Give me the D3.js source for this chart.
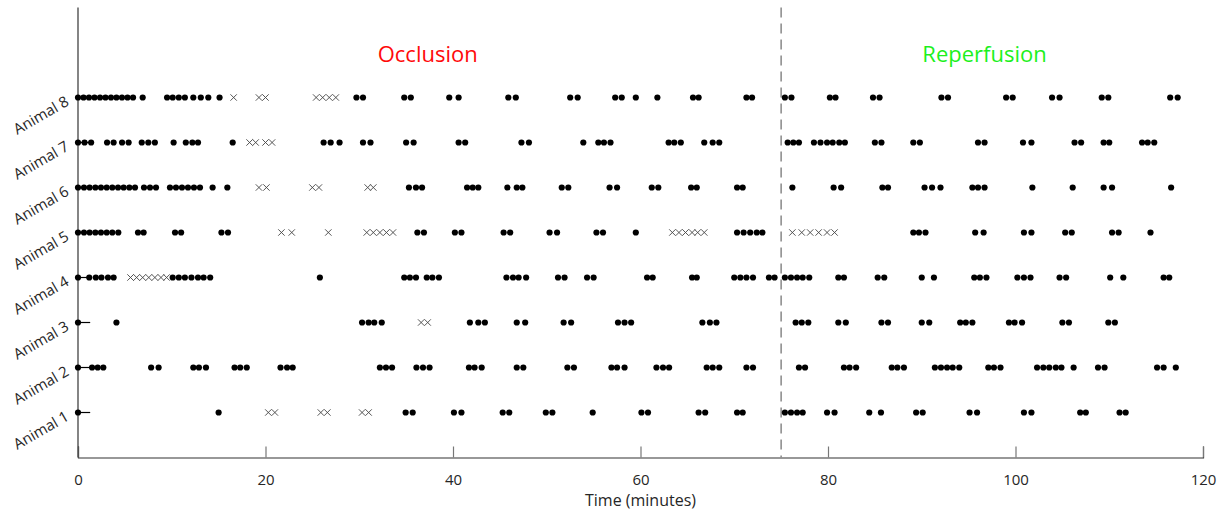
<!DOCTYPE html>
<html>
<head>
<meta charset="utf-8">
<script src="https://cdn.jsdelivr.net/npm/d3@7"></script>
<style>
  html, body { margin: 0; padding: 0; background: #fff; }
  svg { display: block; }
  text { font-family: "Open Sans", "Noto Sans", sans-serif; }
</style>
</head>
<body>
<svg id="chart" width="1226" height="515"></svg>
<script>
// Event times (minutes) per animal: dots = detected events, crosses = missed / excluded events
const animals = ["Animal 1", "Animal 2", "Animal 3", "Animal 4", "Animal 5", "Animal 6", "Animal 7", "Animal 8"];

const animal1Dots = [0, 15.0, 34.95, 35.7, 40.1, 40.9, 45.3, 46.0, 49.9, 50.6, 54.9, 60.1, 60.8, 66.2, 66.9, 70.3, 70.9, 75.4, 76.05, 76.7, 77.3, 79.9, 80.7, 84.4, 85.65, 89.4, 90.1, 95.1, 95.9, 100.9, 101.7, 106.9, 107.5, 111.1, 111.75];
const animal1Crosses = [20.3, 21.0, 25.9, 26.6, 30.3, 31.0];

const animal2Dots = [0, 1.5, 2.1, 2.7, 7.8, 8.6, 12.3, 12.9, 13.65, 16.7, 17.3, 18.0, 21.6, 22.3, 22.9, 32.2, 32.85, 33.5, 36.1, 36.8, 37.5, 41.7, 42.3, 43.06, 46.8, 47.5, 52.2, 52.9, 56.9, 57.5, 58.3, 61.7, 62.4, 63.05, 67.06, 67.7, 68.4, 71.3, 72.0, 76.9, 77.55, 81.7, 82.3, 83.0, 86.8, 87.4, 88.1, 91.4, 92.05, 92.7, 93.3, 94.0, 97.1, 97.7, 98.4, 102.3, 102.97, 103.6, 104.3, 104.9, 106.2, 108.8, 109.5, 115.1, 115.8, 117.1];
const animal2Crosses = [];

const animal3Dots = [0, 4.1, 30.3, 31.0, 31.6, 32.4, 41.8, 42.7, 43.4, 46.8, 47.7, 51.8, 52.6, 57.6, 58.3, 59.0, 66.6, 67.4, 68.1, 76.55, 77.2, 77.9, 81.1, 81.9, 85.7, 86.4, 90.0, 90.8, 94.1, 94.7, 95.4, 99.3, 99.9, 100.7, 105.0, 105.7, 109.9, 110.6];
const animal3Crosses = [36.6, 37.3];

const animal4Dots = [0, 1.2, 1.9, 2.5, 3.2, 3.8, 10.1, 10.75, 11.4, 12.1, 12.8, 13.4, 14.1, 25.8, 34.8, 35.4, 36.05, 37.2, 37.8, 38.5, 45.7, 46.4, 47.0, 47.8, 51.2, 51.9, 54.3, 55.0, 60.7, 61.3, 65.5, 66.0, 70.0, 70.65, 71.3, 72.0, 73.7, 74.3, 75.4, 76.05, 76.7, 77.3, 78.0, 81.1, 81.7, 85.3, 86.0, 90.0, 91.3, 95.6, 96.2, 96.9, 100.2, 100.9, 101.6, 104.7, 105.4, 110.1, 111.5, 115.8, 116.4];
const animal4Crosses = [5.6, 6.25, 6.9, 7.55, 8.2, 8.85, 9.45];

const animal5Dots = [0, 0.64, 1.24, 1.85, 2.45, 3.06, 3.66, 4.3, 6.4, 7.0, 10.35, 11.0, 15.3, 16.0, 36.2, 36.9, 40.2, 40.9, 45.4, 46.1, 50.3, 51.1, 55.3, 56.0, 59.5, 70.3, 71.0, 71.7, 72.4, 73.0, 89.1, 89.7, 90.4, 95.7, 96.6, 100.9, 101.7, 105.3, 106.0, 110.3, 111.0, 114.4];
const animal5Crosses = [21.7, 22.8, 26.7, 30.8, 31.5, 32.2, 32.9, 33.6, 63.4, 64.1, 64.8, 65.5, 66.1, 66.8, 76.2, 77.2, 78.1, 79.0, 79.9, 80.7];

const animal6Dots = [0, 0.64, 1.24, 1.85, 2.45, 3.06, 3.66, 4.27, 4.87, 5.48, 6.08, 7.04, 7.68, 8.32, 9.81, 10.45, 11.09, 11.73, 12.37, 13.01, 14.36, 15.93, 35.3, 36.05, 36.7, 41.5, 42.1, 42.7, 45.8, 46.8, 47.4, 51.6, 52.3, 56.7, 57.5, 61.2, 61.9, 65.4, 66.0, 70.3, 70.9, 76.2, 80.6, 81.4, 85.8, 86.4, 90.3, 91.1, 92.0, 95.4, 96.0, 96.7, 101.8, 106.1, 109.4, 110.3, 116.6];
const animal6Crosses = [19.3, 20.1, 25.0, 25.7, 30.9, 31.5];

const animal7Dots = [0, 0.7, 1.4, 3.1, 3.8, 4.7, 5.4, 6.8, 7.5, 8.2, 10.2, 11.5, 12.2, 12.8, 16.5, 26.2, 26.95, 27.9, 30.4, 31.2, 35.0, 35.8, 40.6, 41.3, 47.3, 48.1, 53.9, 55.5, 56.1, 56.8, 63.0, 63.6, 64.3, 66.8, 67.7, 68.4, 75.7, 76.3, 76.9, 78.5, 79.2, 79.9, 80.5, 81.2, 81.8, 85.0, 85.7, 89.1, 89.8, 96.0, 96.7, 100.8, 101.7, 106.3, 107.0, 109.4, 110.0, 113.5, 114.1, 114.8];
const animal7Crosses = [18.3, 18.95, 20.0, 20.7];

const animal8Dots = [0, 0.59, 1.17, 1.76, 2.35, 2.93, 3.52, 4.1, 4.69, 5.28, 5.87, 6.9, 9.5, 10.1, 10.75, 11.4, 12.3, 13.1, 13.9, 15.1, 29.7, 30.4, 34.8, 35.5, 39.6, 40.6, 45.9, 46.7, 52.5, 53.3, 57.3, 58.0, 59.5, 61.8, 65.6, 66.2, 71.3, 71.9, 75.4, 76.1, 80.2, 80.8, 84.8, 85.5, 92.1, 92.8, 99.0, 99.7, 103.9, 104.7, 109.2, 109.9, 116.5, 117.3];
const animal8Crosses = [16.6, 19.3, 20.0, 25.4, 26.1, 26.8, 27.5];

const dotSeries = [animal1Dots, animal2Dots, animal3Dots, animal4Dots, animal5Dots, animal6Dots, animal7Dots, animal8Dots];
const crossSeries = [animal1Crosses, animal2Crosses, animal3Crosses, animal4Crosses, animal5Crosses, animal6Crosses, animal7Crosses, animal8Crosses];

const xTicks = [0, 20, 40, 60, 80, 100, 120];
const occlusionEnd = 75;      // minute at which reperfusion starts
const baselineEnd = 1.3;      // short recording-start marker on each row
const phaseLabels = [
  { text: "Occlusion", at: 37.3, color: "#ff0a0a" },
  { text: "Reperfusion", at: 96.7, color: "#1cf01c" }
];

const svg = d3.select("#chart");
const plotLeft = 78, plotRight = 1203, plotTop = 7.5, plotBottom = 457.5;

const x = d3.scaleLinear().domain([0, 120]).range([plotLeft, plotRight]);
const y = d3.scaleLinear().domain([0, 10]).range([plotBottom, plotTop]);

// axes
const xAxis = d3.axisBottom(x).tickValues(xTicks).tickSize(-11).tickPadding(0).tickFormat(d3.format("d"));
const gx = svg.append("g").attr("transform", `translate(0,${plotBottom})`).call(xAxis);
gx.select(".domain").attr("stroke", "#333").attr("stroke-width", 1.2);
gx.selectAll(".tick line").attr("stroke", "#777").attr("stroke-width", 1.2);
gx.selectAll(".tick text")
  .attr("y", 22).attr("dy", "0.35em")
  .attr("fill", "#262626").attr("font-size", 15)
  .style("font-family", "'Open Sans', 'Noto Sans', sans-serif");

svg.append("line")
  .attr("x1", x(0)).attr("x2", x(0))
  .attr("y1", y(10)).attr("y2", plotBottom)
  .attr("stroke", "#333").attr("stroke-width", 1.2);

// y labels, rotated
svg.append("g").selectAll("text")
  .data(animals)
  .join("text")
  .attr("transform", (d, i) => `translate(${x(0) - 8},${y(i + 1) + 7}) rotate(-30)`)
  .attr("text-anchor", "end")
  .attr("fill", "#262626")
  .attr("font-size", 15)
  .text(d => d);

svg.append("text")
  .attr("x", (plotLeft + plotRight) / 2).attr("y", 502)
  .attr("text-anchor", "middle").attr("dominant-baseline", "middle")
  .attr("fill", "#262626").attr("font-size", 16)
  .text("Time (minutes)");

// phase divider
svg.append("line")
  .attr("x1", x(occlusionEnd)).attr("x2", x(occlusionEnd))
  .attr("y1", y(10)).attr("y2", plotBottom)
  .attr("stroke", "#888").attr("stroke-width", 1.5)
  .attr("stroke-dasharray", "10,6");

svg.append("g").selectAll("text")
  .data(phaseLabels)
  .join("text")
  .attr("x", d => x(d.at))
  .attr("y", 56)
  .attr("text-anchor", "middle").attr("dominant-baseline", "middle")
  .attr("fill", d => d.color)
  .attr("font-size", 22)
  .text(d => d.text);

// rows
const rows = svg.append("g");
dotSeries.forEach((vals, i) => {
  const yy = y(i + 1);
  const g = rows.append("g");
  g.append("line")
    .attr("x1", x(0)).attr("x2", x(baselineEnd))
    .attr("y1", yy).attr("y2", yy)
    .attr("stroke", "#000").attr("stroke-width", 1.2);
  g.selectAll("path.cross")
    .data(crossSeries[i])
    .join("path")
    .attr("class", "cross")
    .attr("d", d => {
      const cx = x(d), s = 3.2;
      return `M${cx - s},${yy - s}L${cx + s},${yy + s}M${cx - s},${yy + s}L${cx + s},${yy - s}`;
    })
    .attr("stroke", "#444").attr("stroke-width", 0.9).attr("fill", "none");
  g.selectAll("circle")
    .data(vals)
    .join("circle")
    .attr("cx", d => x(d))
    .attr("cy", yy)
    .attr("r", 3.1)
    .attr("fill", "#000");
});
</script>
</body>
</html>
